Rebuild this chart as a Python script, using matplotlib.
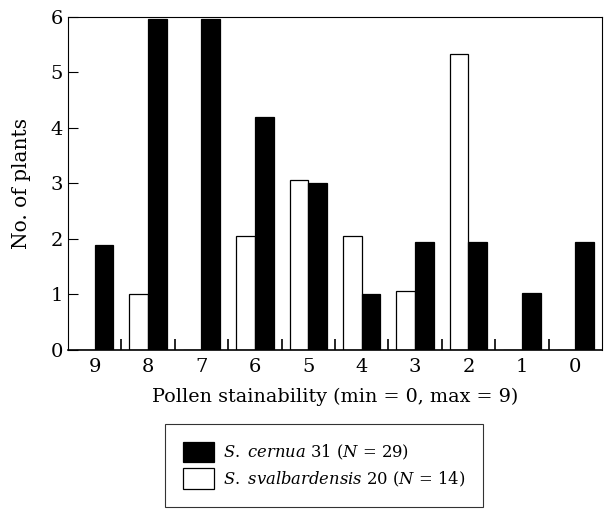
import numpy as np
import matplotlib.pyplot as plt

plt.rcParams['font.family'] = 'DejaVu Serif'
plt.rcParams['mathtext.fontset'] = 'dejavuserif'

# stainability classes
categories = ['9', '8', '7', '6', '5', '4', '3', '2', '1', '0']
cernua = [1.9, 5.97, 5.97, 4.2, 3.0, 1.0, 1.94, 1.94, 1.03, 1.94]
svalbard = [0, 1.0, 0, 2.05, 3.06, 2.05, 1.06, 5.33, 0, 0]

fig = plt.figure(figsize=(6.05, 5.12), dpi=100)
ax = fig.add_axes([0.1124, 0.3164, 0.8826, 0.6506])

x = np.arange(len(categories))
w = 0.35
ax.bar(x - w / 2, svalbard, width=w, color='white', edgecolor='black', linewidth=0.9,
       label=r'$\mathit{S.}$ $\mathit{svalbardensis}$ 20 ($\mathit{N}$ = 14)')
ax.bar(x + w / 2, cernua, width=w, color='black', edgecolor='black', linewidth=0.9,
       label=r'$\mathit{S.}$ $\mathit{cernua}$ 31 ($\mathit{N}$ = 29)')

ax.set_xlim(-0.5, 9.5)
ax.set_ylim(0, 6)
ax.set_xticks(x)
ax.set_xticklabels(categories)
ax.set_xticks(x[:-1] + 0.5, minor=True)
ax.tick_params(axis='x', which='major', length=0, labelsize=14, pad=6)
ax.tick_params(axis='x', which='minor', direction='in', length=8, width=1.2)
ax.tick_params(axis='y', direction='in', length=7, width=0.8, labelsize=14)
ax.set_yticks(range(7))

for s in ax.spines.values():
    s.set_linewidth(0.8)
ax.spines['bottom'].set_linewidth(1.2)

ax.set_xlabel('Pollen stainability (min = 0, max = 9)', fontsize=13.8, labelpad=8)
ax.set_ylabel('No. of plants', fontsize=14.5, labelpad=14)

h, l = ax.get_legend_handles_labels()
leg = fig.legend(h[::-1], l[::-1], loc='upper left', bbox_to_anchor=(0.273, 0.172),
                 borderaxespad=0, fontsize=11.8, frameon=True, fancybox=False,
                 edgecolor='black', handlelength=1.9, handleheight=1.55,
                 handletextpad=0.5, borderpad=1.1, labelspacing=0.35)
leg.get_frame().set_linewidth(0.8)

fig.savefig('out.png', dpi=100)
